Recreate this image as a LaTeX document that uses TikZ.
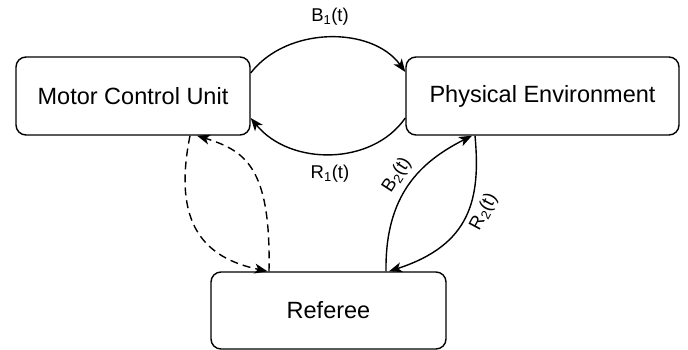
\documentclass[tikz,border=0pt]{standalone}
\usepackage{fontspec}
\setmainfont{Liberation Sans}
\usetikzlibrary{arrows.meta}
\begin{document}
\begin{tikzpicture}[x=1pt,y=-1pt,
  box/.style={draw, line width=1.4pt, rounded corners=10pt, inner sep=0pt,
    font=\fontsize{23.5}{28}\selectfont},
  conn/.style={line width=1.4pt, -{Stealth[length=13pt,width=10pt,inset=3.5pt]}},
  dashconn/.style={conn, dash pattern=on 8pt off 5pt},
  lbl/.style={font=\fontsize{18.5}{22}\selectfont, inner sep=0pt}]
\useasboundingbox (0,0) rectangle (688,350);
\node[box, minimum width=234pt, minimum height=78pt] (mcu) at (133,96) {Motor Control Unit};
\node[box, minimum width=273pt, minimum height=78pt] (pe) at (542.5,96) {Physical Environment};
\node[box, minimum width=235pt, minimum height=77pt] (ref) at (328.5,310.5) {Referee};
% B1 and R1
\draw[conn] ([yshift=23pt]mcu.east) .. controls (287,26) and (372,26) .. ([yshift=24pt]pe.west);
\draw[conn] ([yshift=-22pt]pe.west) .. controls (372,166) and (290,166) .. ([yshift=-22pt]mcu.east);
\node[lbl] (b1) at (330,17) {B\textsubscript{1}(t)};
\node[lbl] (r1) at (330,174) {R\textsubscript{1}(t)};
% dashed between MCU and Referee
\draw[dashconn] ([xshift=57pt]mcu.south) .. controls (172,225) and (205,258) .. ([xshift=-61pt]ref.north);
\draw[dashconn] ([xshift=-59.5pt]ref.north) .. controls (271,168) and (246,151) .. ([xshift=64pt]mcu.south);
% B2 and R2
\draw[conn] ([xshift=57.5pt]ref.north) .. controls (385,195) and (420,162) .. ([xshift=-70.5pt]pe.south);
\draw[conn] ([xshift=-67.5pt]pe.south) .. controls (481,200) and (470,245) .. ([xshift=60.5pt]ref.north);
\node[lbl, rotate=57] (b2) at (397,175) {B\textsubscript{2}(t)};
\node[lbl, rotate=62] (r2) at (484,212) {R\textsubscript{2}(t)};
\end{tikzpicture}
\end{document}
